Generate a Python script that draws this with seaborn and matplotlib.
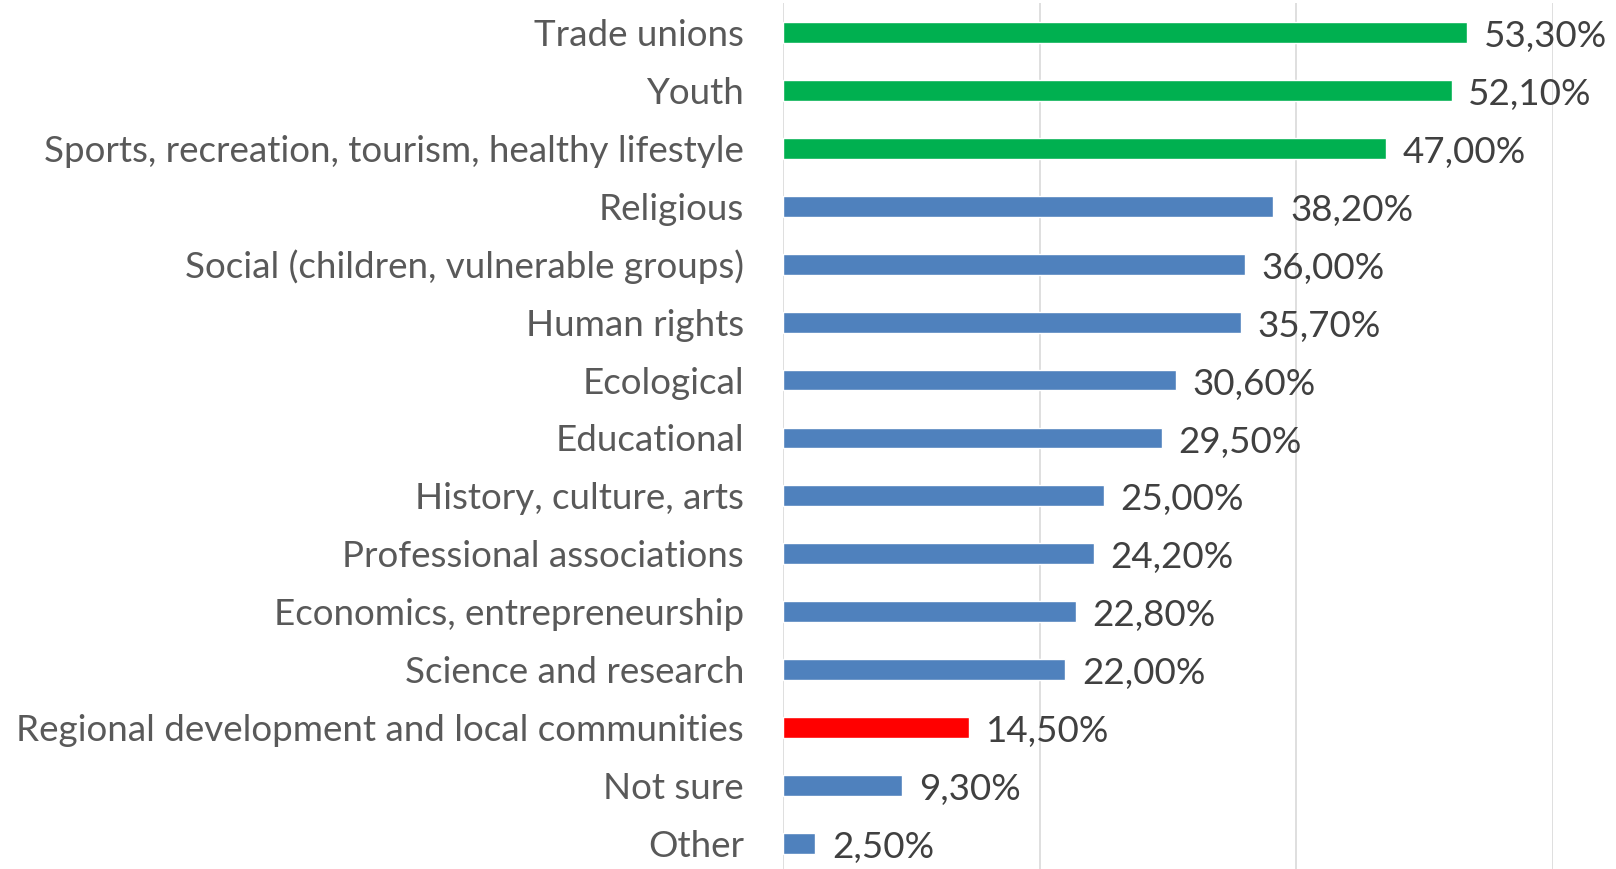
import matplotlib
matplotlib.use("Agg")
import matplotlib.pyplot as plt
from matplotlib import font_manager
import seaborn as sns
import pandas as pd

categories = ["Trade unions", "Youth", "Sports, recreation, tourism, healthy lifestyle",
              "Religious", "Social (children, vulnerable groups)", "Human rights",
              "Ecological", "Educational", "History, culture, arts",
              "Professional associations", "Economics, entrepreneurship",
              "Science and research", "Regional development and local communities",
              "Not sure", "Other"]
values = [53.3, 52.1, 47.0, 38.2, 36.0, 35.7, 30.6, 29.5, 25.0, 24.2, 22.8, 22.0, 14.5, 9.3, 2.5]
groups = ["top", "top", "top", "mid", "mid", "mid", "mid", "mid", "mid", "mid", "mid", "mid",
          "focus", "mid", "mid"]
group_colors = {"top": "#00B050", "mid": "#4F81BD", "focus": "#FF0000"}
x_ticks = [0, 20, 40, 60]

names = sorted({f.name for f in font_manager.fontManager.ttflist})
fam = "Liberation Sans Narrow" if "Liberation Sans Narrow" in names else "Lato"

df = pd.DataFrame({"category": categories, "value": values, "group": groups})

sns.set_style("white")
plt.rcParams["font.family"] = [fam, "DejaVu Sans"]

fig = plt.figure(figsize=(16.16, 8.69), dpi=100)
ax = fig.add_axes([783 / 1616, -0.004, (1553 - 783) / 1616, 1.0])

sns.barplot(data=df, x="value", y="category", hue="group", palette=group_colors,
            orient="h", width=0.36, legend=False, ax=ax, dodge=False, saturation=1)

ax.set_xlim(0, 60)
ax.set_ylim(14.5, -0.5)
ax.set_xticks(x_ticks)
ax.set_xticklabels([])
ax.xaxis.grid(True, color="#D9D9D9", linewidth=1.2)
ax.set_axisbelow(True)
for s in ax.spines.values():
    s.set_visible(False)
ax.set_xlabel("")
ax.set_ylabel("")

# fit font size so the longest label is ~730 px
renderer = fig.canvas.get_renderer()
t = fig.text(0, 0, categories[12], fontsize=20)
w = t.get_window_extent(renderer).width
t.remove()
fs = 20 * 728 / w

ax.tick_params(axis="y", length=0, pad=28, labelsize=fs, labelcolor="#595959")
ax.tick_params(axis="x", length=0)

for i, v in enumerate(values):
    ax.text(v + 1.3, i + 0.07, f"{v:.2f}%".replace(".", ","), va="center", ha="left",
            fontsize=fs, color="#404040")

fig.savefig("out.png", dpi=100)
